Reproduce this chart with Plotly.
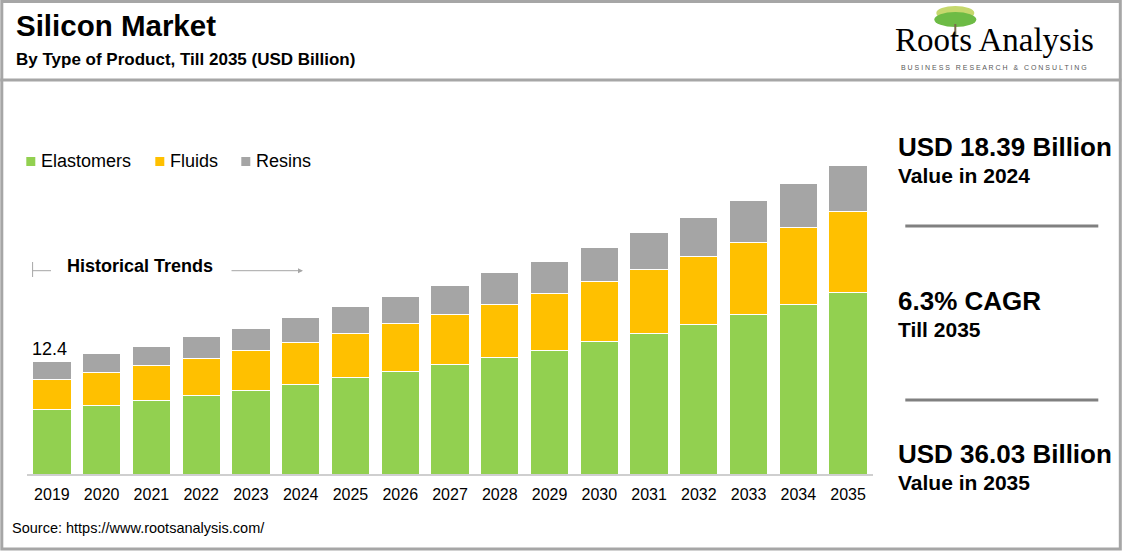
import plotly.graph_objects as go

# data (USD billion)
years = [str(y) for y in range(2019, 2036)]
elastomers = [7.06, 7.50, 8.04, 8.64, 9.14, 9.80, 10.57, 11.23, 11.99, 12.76,
              13.53, 14.52, 15.40, 16.38, 17.48, 18.65, 19.89]
fluids = [3.29, 3.62, 3.84, 4.02, 4.39, 4.61, 4.83, 5.27, 5.49, 5.82,
          6.25, 6.55, 7.02, 7.46, 7.90, 8.37, 8.89]
resins = [2.05, 2.05, 2.16, 2.38, 2.49, 2.71, 2.93, 2.93, 3.26, 3.48,
          3.59, 3.81, 4.03, 4.36, 4.58, 4.83, 5.05]
series_names = ["Elastomers", "Fluids", "Resins"]
series_colors = ["#92d050", "#ffc000", "#a5a5a5"]
first_label = "12.4"

# figure geometry
W, H = 1123, 553
ML, MR, MT, MB = 26.7, 250.3, 100, 79
PW, PH = W - ML - MR, H - MT - MB
PX_PER_UNIT = 113 / 12.4
FONT = "Liberation Sans, Arial, sans-serif"
FRAME = "#a6a6a6"


def px(x):
    return (x - ML) / PW


def py(y):
    return (H - MB - y) / PH


fig = go.Figure()
for name, vals, col in zip(series_names, [elastomers, fluids, resins], series_colors):
    fig.add_trace(go.Bar(
        x=years, y=vals, name=name,
        marker=dict(color=col, line=dict(color="#ffffff", width=1)),
        showlegend=False, hoverinfo="x+y+name",
    ))

totals = [a + b + c for a, b, c in zip(elastomers, fluids, resins)]

annotations = []
shapes = []


def text(x, y, s, size, bold=False, color="#000000", family=FONT, xanchor="left"):
    annotations.append(dict(
        xref="paper", yref="paper", x=px(x), y=py(y), text=f"<b>{s}</b>" if bold else s,
        showarrow=False, xanchor=xanchor, yanchor="middle",
        font=dict(family=family, size=size, color=color),
    ))


def line(x0, y0, x1, y1, color=FRAME, width=1):
    shapes.append(dict(type="line", xref="paper", yref="paper",
                       x0=px(x0), y0=py(y0), x1=px(x1), y1=py(y1),
                       line=dict(color=color, width=width)))


# frame and header separator
shapes.append(dict(type="rect", xref="paper", yref="paper",
                   x0=px(1.5), y0=py(1.5), x1=px(1120), y1=py(549),
                   line=dict(color=FRAME, width=3)))
line(0, 80, 1121, 80, width=3)

# titles
text(14, 25, "Silicon Market", 29.5, bold=True)
text(14, 59, "By Type of Product, Till 2035 (USD Billion)", 17, bold=True)

# logo
shapes.append(dict(type="circle", xref="paper", yref="paper",
                   x0=px(936), y0=py(6), x1=px(974), y1=py(20),
                   fillcolor="#c5d86d", line=dict(width=0)))
shapes.append(dict(type="circle", xref="paper", yref="paper",
                   x0=px(934), y0=py(12), x1=px(976), y1=py(27),
                   fillcolor="#6dbb45", line=dict(width=0)))
line(955, 24, 955, 36, color="#7a6a4a", width=2)
text(994, 40, "Roots Analysis", 33, family="Liberation Serif, Times New Roman, serif",
     xanchor="center")
text(994, 67, "B U S I N E S S &nbsp; R E S E A R C H &nbsp; &amp; &nbsp; C O N S U L T I N G",
     7, color="#595959", xanchor="center")

# legend (manual)
legend_x = [26, 155, 241]
for lx, name, col in zip(legend_x, series_names, series_colors):
    shapes.append(dict(type="rect", xref="paper", yref="paper",
                       x0=px(lx), y0=py(157), x1=px(lx + 9), y1=py(166),
                       fillcolor=col, line=dict(width=0)))
    text(lx + 13, 161, name, 18)

# historical trends marker
line(32.3, 262, 32.3, 277)
line(32.3, 270.7, 50.7, 270.7)
text(65, 266, "Historical Trends", 18, bold=True)
annotations.append(dict(
    xref="paper", yref="paper", x=px(302.7), y=py(270.7),
    axref="pixel", ayref="pixel", ax=-73, ay=0, text="", showarrow=True,
    arrowhead=2, arrowsize=1, arrowwidth=1, arrowcolor=FRAME,
))

# value label on first bar
annotations.append(dict(
    xref="x", yref="y", x=0, y=totals[0], text=first_label, showarrow=False,
    xanchor="center", yanchor="bottom", xshift=-2, yshift=0,
    font=dict(family=FONT, size=18, color="#000000"),
))

# right panel
text(896, 147, "USD 18.39 Billion", 26, bold=True)
text(896, 175, "Value in 2024", 21, bold=True)
line(905, 226, 1098, 226, color="#808080", width=3)
text(896, 301, "6.3% CAGR", 26, bold=True)
text(896, 329, "Till 2035", 21, bold=True)
line(905, 400, 1098, 400, color="#808080", width=3)
text(896, 454, "USD 36.03 Billion", 26, bold=True)
text(896, 482, "Value in 2035", 21, bold=True)

# source
text(10, 528, "Source: https://www.rootsanalysis.com/", 14.5)

fig.update_layout(
    width=W, height=H, autosize=False,
    margin=dict(l=ML, r=MR, t=MT, b=MB, pad=0),
    paper_bgcolor="#ffffff", plot_bgcolor="#ffffff",
    barmode="stack", bargap=0.23,
    annotations=annotations, shapes=shapes,
    font=dict(family=FONT, color="#000000"),
)
fig.update_xaxes(
    type="category", range=[-0.5, 16.5], showgrid=False, zeroline=False,
    showline=True, linecolor="#cfcfcf", linewidth=1.5, ticks="",
    tickfont=dict(family=FONT, size=16, color="#000000"), ticklabelstandoff=5,
)
fig.update_yaxes(visible=False, range=[0, PH / PX_PER_UNIT], fixedrange=True)

fig.write_html("out.html", config={"displayModeBar": False},
               post_script="document.body.style.margin='0';document.body.style.overflow='hidden';")
